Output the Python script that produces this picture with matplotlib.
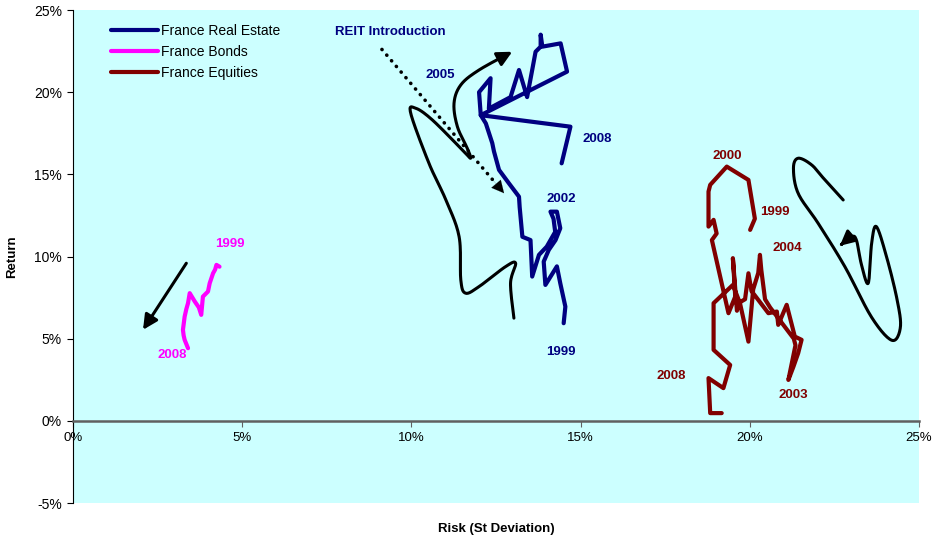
import numpy as np
import matplotlib
matplotlib.use("Agg")
import matplotlib.pyplot as plt
from matplotlib.ticker import FuncFormatter

plt.rcParams['font.family'] = ['Liberation Sans', 'DejaVu Sans']

# risk (%) / return (%) paths, 1999 -> 2008
re_risk = [14.5, 14.55, 14.4, 14.3, 13.96, 13.91, 14.06, 14.26, 14.4, 14.3, 14.11, 14.2, 14.25,
           14.0, 13.77, 13.57, 13.52, 13.28, 13.2, 13.18, 12.88, 12.59, 12.44, 12.39, 12.2, 12.05,
           12.0, 12.34, 12.29, 12.93, 13.18, 13.42, 13.57, 13.67, 13.82, 13.82, 13.87, 14.41,
           14.6, 12.05, 14.7, 14.44]
re_ret = [5.94, 6.95, 8.37, 9.4, 8.27, 9.69, 10.4, 11.0, 11.72, 12.73, 12.73, 12.3, 11.5,
          10.6, 10.1, 8.78, 11.0, 11.2, 13.0, 13.64, 14.46, 15.27, 16.4, 16.9, 18.1, 18.6,
          20.0, 20.85, 19.0, 19.7, 21.35, 19.7, 21.35, 22.46, 22.77, 23.5, 22.77, 22.97,
          21.25, 18.6, 17.9, 15.67]

bond_risk = [4.33, 4.24, 4.2, 4.14, 4.04, 3.99, 3.84, 3.79, 3.72, 3.6, 3.45, 3.4, 3.35, 3.3,
             3.25, 3.27, 3.3, 3.4]
bond_ret = [9.38, 9.49, 9.2, 8.98, 8.37, 7.87, 7.56, 6.45, 6.9, 7.26, 7.77, 7.16, 6.8, 6.34,
            5.54, 5.2, 4.93, 4.42]

eq_risk = [20.01, 20.15, 19.96, 19.32, 18.83, 18.78, 18.78, 18.93, 19.02, 18.88, 19.37, 19.57,
           19.5, 19.62, 19.66, 19.86, 19.96, 20.05, 20.55, 20.8, 20.84, 21.09, 21.33, 21.53,
           21.43, 21.29, 21.14, 21.35, 21.3, 20.6, 20.45, 20.34, 20.3, 20.25, 20.1, 19.96,
           19.71, 19.5, 18.93, 18.93, 19.42, 19.22, 18.78, 18.83, 19.17]
eq_ret = [11.62, 12.3, 14.66, 15.47, 14.36, 13.95, 11.82, 12.23, 11.4, 11.0, 6.55, 7.56,
          9.9, 6.7, 7.16, 7.4, 8.98, 7.9, 6.55, 6.65, 5.84, 7.06, 5.13, 4.93,
          4.12, 3.3, 2.49, 4.6, 5.0, 6.9, 7.4, 9.18, 10.1, 9.0, 8.0, 4.82,
          7.16, 8.27, 7.16, 4.32, 3.4, 1.99, 2.6, 0.47, 0.47]

series = [("France Real Estate", re_risk, re_ret, "#000080"),
          ("France Bonds", bond_risk, bond_ret, "#FF00FF"),
          ("France Equities", eq_risk, eq_ret, "#800000")]

year_labels = [("2005", 10.85, 21.05, "#000080"), ("2008", 15.48, 17.15, "#000080"),
               ("2002", 14.42, 13.5, "#000080"), ("1999", 14.42, 4.2, "#000080"),
               ("1999", 4.63, 10.77, "#FF00FF"), ("2008", 2.92, 4.0, "#FF00FF"),
               ("2000", 19.34, 16.1, "#800000"), ("1999", 20.75, 12.7, "#800000"),
               ("2004", 21.1, 10.5, "#800000"), ("2008", 17.69, 2.74, "#800000"),
               ("2003", 21.3, 1.58, "#800000")]

# hand drawn trend arrows (control points, last one is the tip)
curve_re = [(13.03, 6.25), (12.93, 8.38), (13.08, 9.59), (12.78, 9.38), (12.0, 8.17),
            (11.6, 7.77), (11.46, 8.58), (11.41, 11.21), (11.02, 13.44), (10.52, 15.67),
            (9.98, 18.72), (10.13, 19.02), (10.62, 18.31), (11.51, 16.48), (11.75, 15.98),
            (11.65, 16.59), (11.36, 17.9), (11.26, 19.32), (11.46, 20.44), (12.0, 21.35),
            (12.98, 22.46)]
curve_eq = [(22.76, 13.44), (22.22, 14.66), (21.83, 15.57), (21.43, 15.98), (21.29, 15.37),
            (21.43, 13.84), (22.02, 12.02), (22.81, 9.38), (23.6, 6.3), (24.2, 4.9),
            (24.45, 5.7), (24.35, 7.4), (24.04, 9.99), (23.74, 11.82), (23.6, 10.8),
            (23.5, 8.38), (23.3, 9.5), (23.15, 11.0), (23.0, 11.2), (22.66, 10.65)]
arrow_bond = [(3.35, 9.59), (2.07, 5.54)]
reit_arrow = [(9.13, 22.6), (12.74, 13.85)]


def smooth(pts, n=14):
    p = np.array(pts, dtype=float)
    p = np.vstack([p[0], p, p[-1]])
    out = []
    t = np.linspace(0, 1, n, endpoint=False)[:, None]
    for i in range(1, len(p) - 2):
        p0, p1, p2, p3 = p[i - 1], p[i], p[i + 1], p[i + 2]
        out.append(0.5 * (2 * p1 + (-p0 + p2) * t + (2 * p0 - 5 * p1 + 4 * p2 - p3) * t ** 2
                          + (-p0 + 3 * p1 - 3 * p2 + p3) * t ** 3))
    out.append(p[-2][None])
    return np.vstack(out)


fig = plt.figure(figsize=(9.33, 5.35), dpi=100)
ax = fig.add_axes([0.0782, 0.0598, 0.9068, 0.9215])
ax.set_facecolor("#CCFFFF")

for name, xs, ys, col in series:
    ax.plot(xs, ys, color=col, lw=3, label=name, solid_joinstyle='round', solid_capstyle='round')

for txt, x, y, col in year_labels:
    ax.text(x, y, txt, color=col, fontsize=9.5, fontweight='bold', ha='center', va='center')

ax.text(9.38, 23.66, "REIT Introduction", color="#000080", fontsize=9.5, fontweight='bold',
        ha='center', va='center')

head = dict(arrowstyle='-|>', color='black', lw=2.2, mutation_scale=22, shrinkA=0, shrinkB=0)

for c in [curve_re, curve_eq]:
    s = smooth(c)
    ax.plot(s[:-3, 0], s[:-3, 1], color='black', lw=2.2, solid_capstyle='round')
    ax.annotate('', xy=tuple(s[-1]), xytext=tuple(s[-4]), arrowprops=head)

ax.annotate('', xy=arrow_bond[1], xytext=arrow_bond[0], arrowprops=head)

# dotted REIT arrow: round dots + solid head
(x0, y0), (x1, y1) = reit_arrow
ax.plot([x0, x0 + 0.93 * (x1 - x0)], [y0, y0 + 0.93 * (y1 - y0)], color='black', lw=2.6,
        ls=(0, (0.05, 2.0)), dash_capstyle='round')
ax.annotate('', xy=(x1, y1), xytext=(x0 + 0.9 * (x1 - x0), y0 + 0.9 * (y1 - y0)),
            arrowprops=dict(arrowstyle='-|>', color='black', lw=0.1, mutation_scale=22,
                            shrinkA=0, shrinkB=0))

ax.set_xlim(0, 25)
ax.set_ylim(-5, 25)
ax.set_xticks(np.arange(0, 26, 5))
ax.set_yticks(np.arange(-5, 26, 5))
pct = FuncFormatter(lambda v, p: f"{v:.0f}%")
ax.xaxis.set_major_formatter(pct)
ax.yaxis.set_major_formatter(pct)

ax.spines['top'].set_visible(False)
ax.spines['right'].set_visible(False)
ax.spines['bottom'].set_position(('data', 0))
ax.spines['bottom'].set_color('#606060')
ax.spines['bottom'].set_linewidth(1.8)
ax.spines['left'].set_linewidth(0.8)
ax.tick_params(axis='x', direction='out', length=4, color='#606060', labelsize=9.5, pad=4)
ax.tick_params(axis='y', direction='out', length=4, labelsize=10, pad=4)

ax.set_xlabel("Risk (St Deviation)", fontsize=9.5, fontweight='bold')
ax.set_ylabel("Return", fontsize=9.5, fontweight='bold')
ax.xaxis.set_label_coords(0.5, -0.04)
ax.yaxis.set_label_coords(-0.065, 0.5)

ax.legend(loc='upper left', bbox_to_anchor=(0.0448, 0.972), frameon=False, fontsize=10,
          handlelength=3.4, handletextpad=0.2, labelspacing=0.5, borderpad=0, borderaxespad=0)

fig.savefig("out.png", dpi=100)
